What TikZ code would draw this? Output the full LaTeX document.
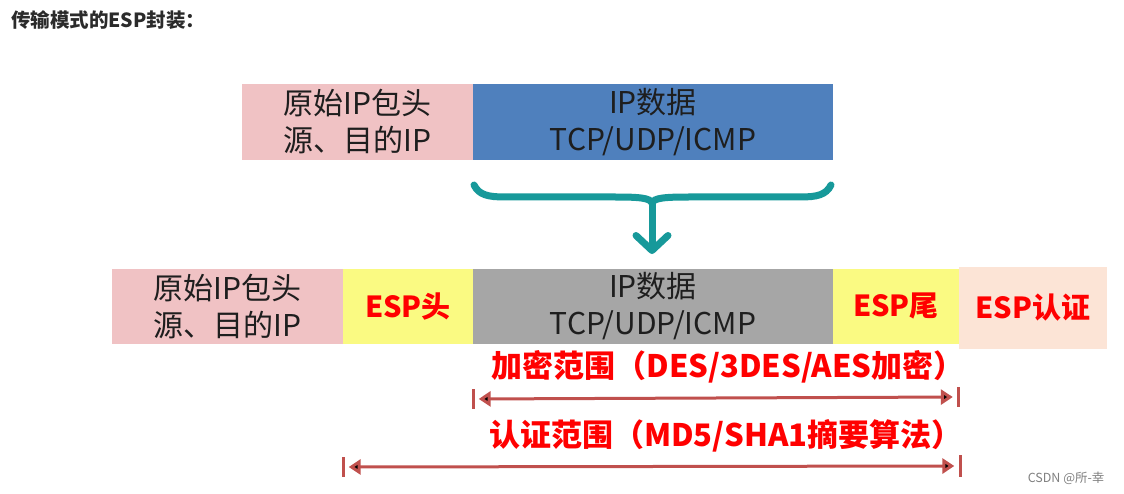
\documentclass[tikz,border=0pt]{standalone}
\usepackage{fontspec}
\setmainfont{Noto Sans CJK SC}
\usepackage{tikz}
\usetikzlibrary{arrows.meta}
\definecolor{hdrpink}{HTML}{F0C2C4}
\definecolor{datablue}{HTML}{4F80BD}
\definecolor{datagray}{HTML}{A6A6A6}
\definecolor{espyellow}{HTML}{FAFA82}
\definecolor{authpeach}{HTML}{FCE4D6}
\definecolor{braceteal}{HTML}{17999A}
\definecolor{rangered}{HTML}{C0504D}
\definecolor{boxtext}{HTML}{1E1E1E}
\definecolor{titletext}{HTML}{2B2B2B}
\tikzset{
  field/.style={rectangle, inner sep=0pt, align=center, text=boxtext,
    font=\fontsize{30}{37}\selectfont},
  espfield/.style={field, text=red, font=\fontsize{29}{34}\selectfont\bfseries},
  tick/.style={fill=rangered, inner sep=0pt, minimum width=3pt, minimum height=20pt},
  spanline/.style={draw=rangered, line width=3pt,
    {Triangle[length=12pt,width=15pt]}-{Triangle[length=12pt,width=15pt]},
    shorten <=4pt, shorten >=4pt},
  spanlabel/.style={text=red, font=\fontsize{31}{34}\selectfont\bfseries},
  brace/.style={draw=braceteal, line width=7pt, line cap=round}
}
\begin{document}
\begin{tikzpicture}[x=1pt,y=-1pt]
\useasboundingbox (0,0) rectangle (1124,494);

\node[anchor=west, inner sep=0pt, text=titletext, font=\fontsize{19.5}{22}\selectfont\bfseries] (title) at (11,20) {传输模式的ESP封装：};

\node[field, fill=hdrpink, minimum width=231pt, minimum height=76pt] (hdrA) at (357.5,122) {原始IP包头\\源、目的IP};
\node[field, fill=datablue, minimum width=360pt, minimum height=76pt] (dataA) at (653,122) {IP数据\\TCP/UDP/ICMP};

\coordinate (brL) at (474,185);
\coordinate (brR) at (831,185);
\coordinate (brM) at (652,203);
\coordinate (brTip) at (652,254);

\draw[brace] (brL) .. controls (479,195) and (488,197) .. (505,197) -- (615,197)
   .. controls (640,197) and (650,198) .. (brM)
   .. controls (654,198) and (664,197) .. (689,197) -- (800,197)
   .. controls (817,197) and (826,195) .. (brR);
\draw[brace, -{Straight Barb[length=15pt,width=32pt,round]}] (brM) -- (brTip);

\node[field, fill=hdrpink, minimum width=231pt, minimum height=75pt] (hdrB) at (227.5,306.5) {原始IP包头\\源、目的IP};
\node[espfield, fill=espyellow, minimum width=130pt, minimum height=75pt] (esphB) at (408,306.5) {ESP头};
\node[field, fill=datagray, minimum width=360pt, minimum height=75pt] (dataB) at (653,306.5) {IP数据\\TCP/UDP/ICMP};
\node[espfield, fill=espyellow, minimum width=126pt, minimum height=75pt] (esptB) at (896,306.5) {ESP尾};
\node[espfield, fill=authpeach, minimum width=148pt, minimum height=82pt] (espaB) at (1033,308) {ESP认证};

\node[spanlabel] (encT) at (728,367) {加密范围（DES/3DES/AES加密）};
\node[tick] (encL) at (473,399) {};
\node[tick] (encR) at (958.5,397) {};
\path[spanline] (encL) edge (encR);

\node[spanlabel] (authT) at (726,436) {认证范围（MD5/SHA1摘要算法）};
\node[tick] (authL) at (343,467) {};
\node[tick, minimum height=22pt] (authR) at (960,466) {};
\path[spanline] (authL) edge (authR);

\node[anchor=east, text=gray, font=\fontsize{12.5}{14}\selectfont] (mark) at (1108,478) {CSDN @所-幸};
\end{tikzpicture}
\end{document}
